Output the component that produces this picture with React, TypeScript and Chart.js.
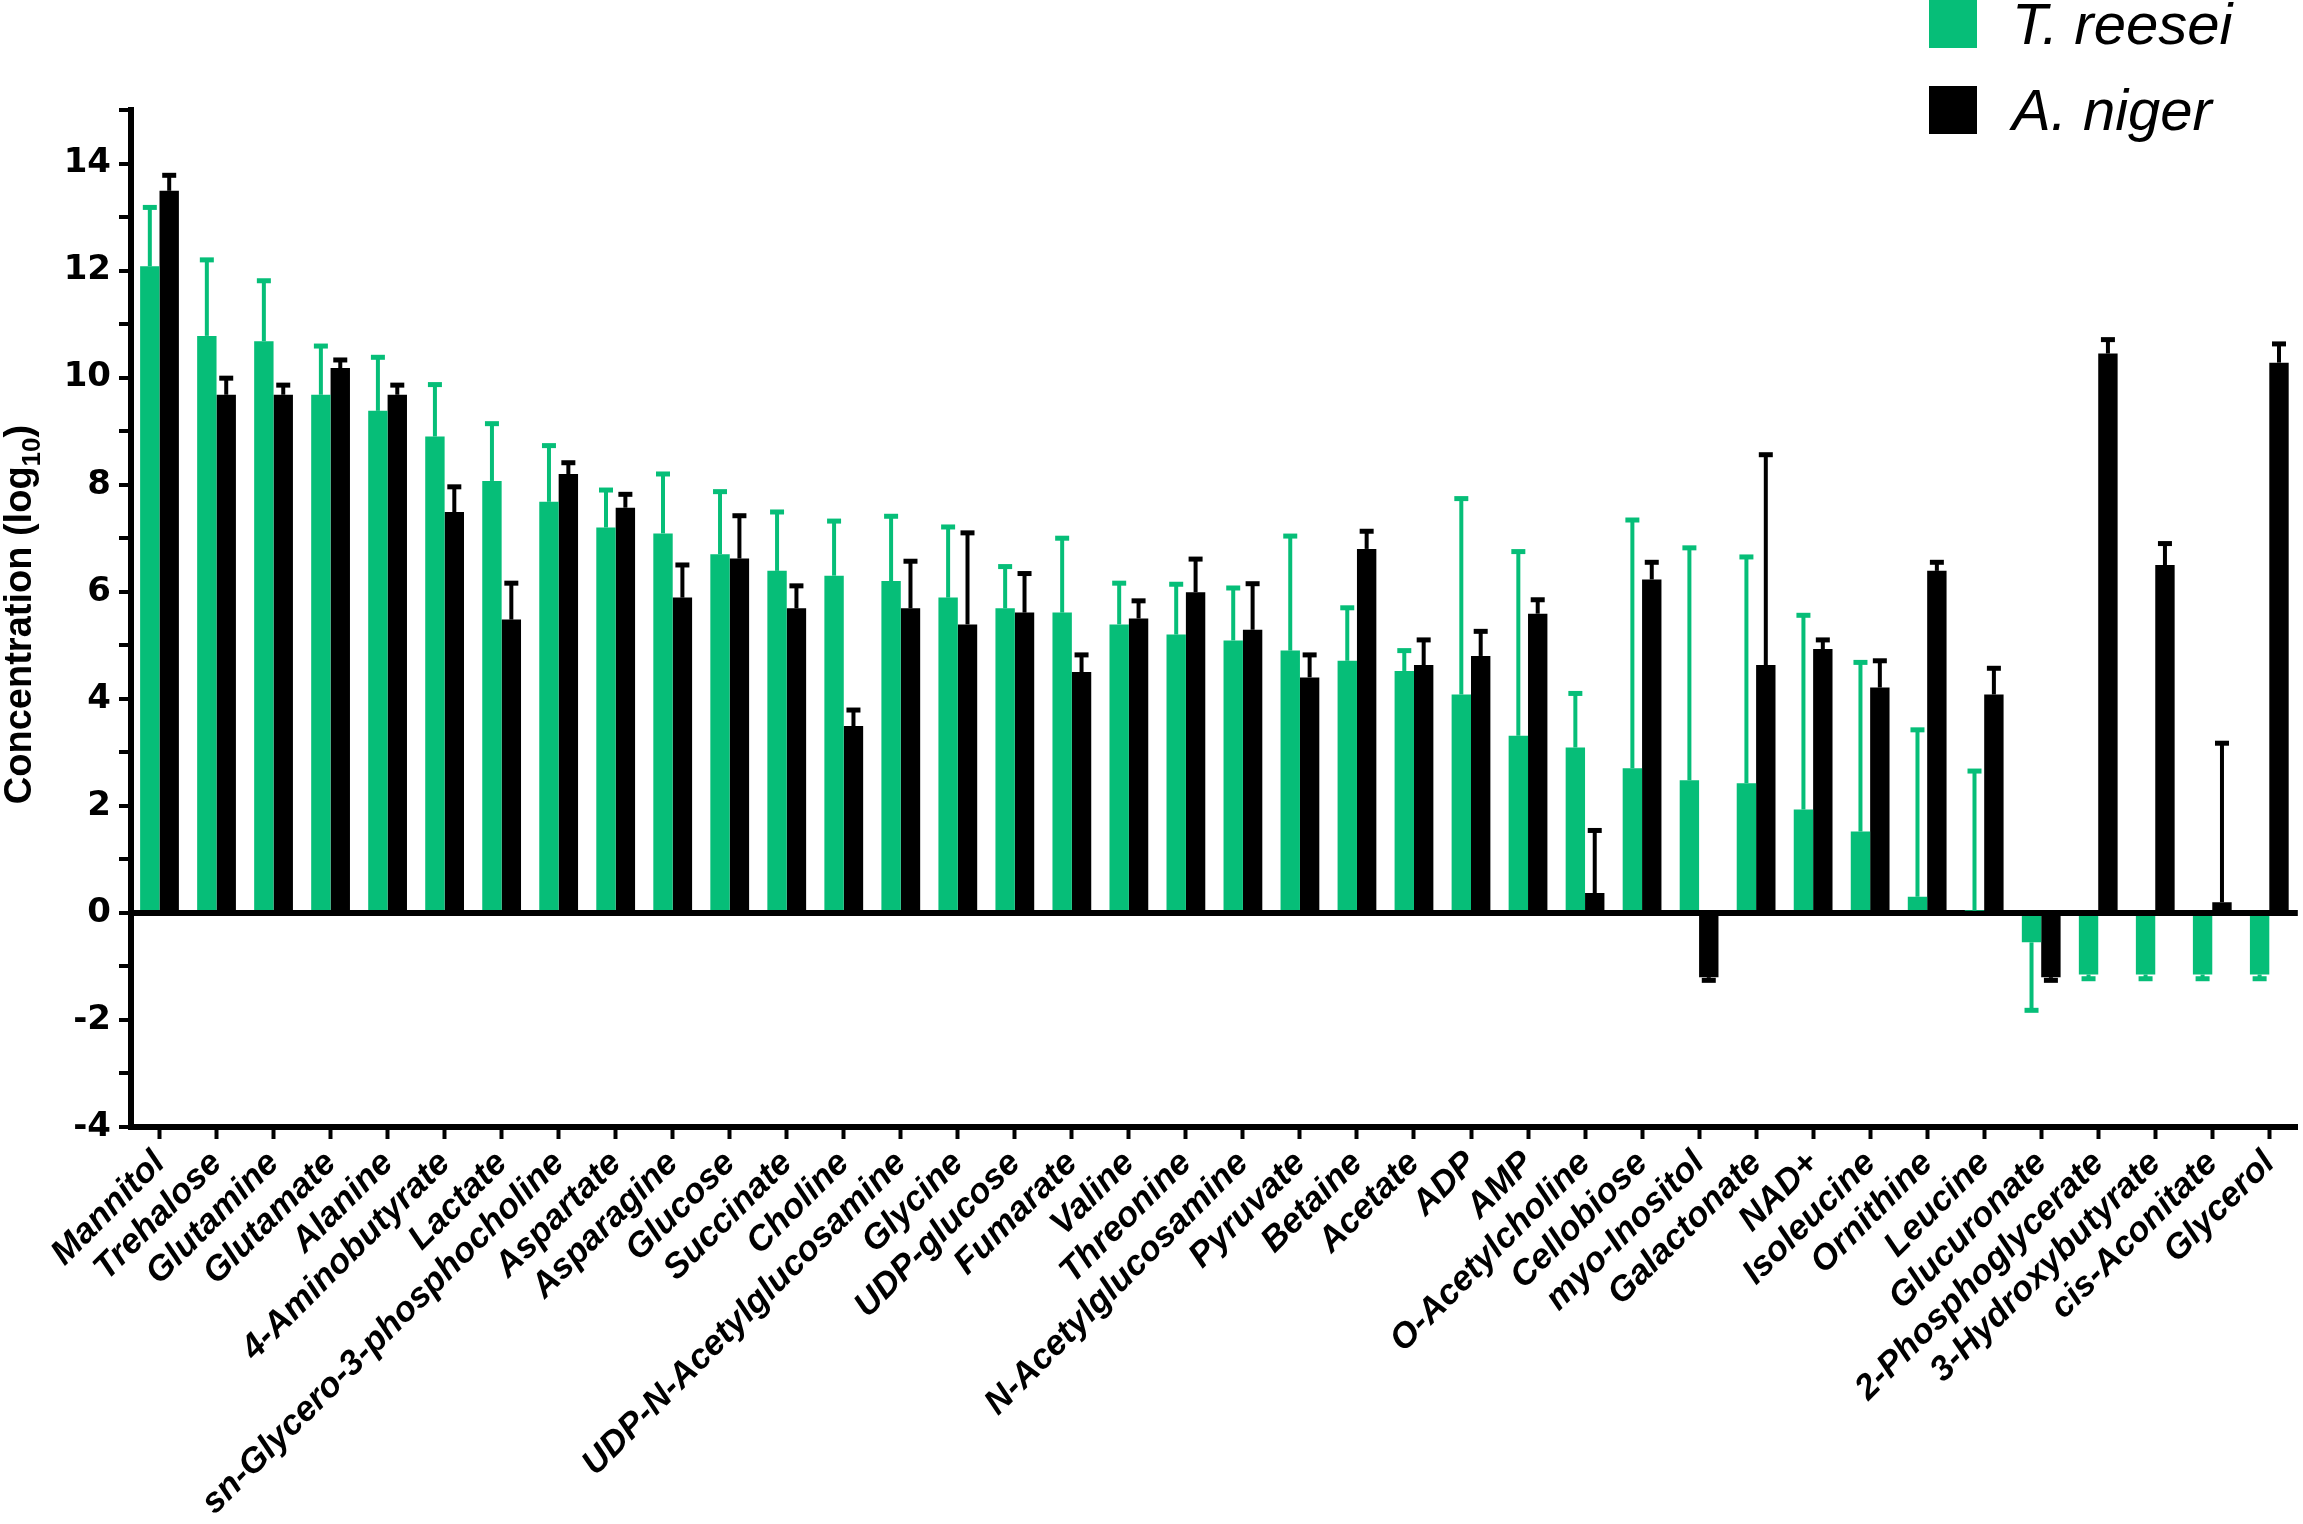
import { useEffect, useRef } from "react";
import { Chart, registerables } from "chart.js";

Chart.register(...registerables);

const metabolites = [
  "Mannitol", "Trehalose", "Glutamine", "Glutamate", "Alanine",
  "4-Aminobutyrate", "Lactate", "sn-Glycero-3-phosphocholine", "Aspartate",
  "Asparagine", "Glucose", "Succinate", "Choline", "UDP-N-Acetylglucosamine",
  "Glycine", "UDP-glucose", "Fumarate", "Valine", "Threonine",
  "N-Acetylglucosamine", "Pyruvate", "Betaine", "Acetate", "ADP", "AMP",
  "O-Acetylcholine", "Cellobiose", "myo-Inositol", "Galactonate", "NAD+",
  "Isoleucine", "Ornithine", "Leucine", "Glucuronate", "2-Phosphoglycerate",
  "3-Hydroxybutyrate", "cis-Aconitate", "Glycerol",
];

const seriesNames = ["T. reesei", "A. niger"];
const seriesColors = ["#06BE78", "#000000"];

// mean log10 concentration and one-sided error (away from zero)
const reeseiMean = [
  12.08, 10.78, 10.68, 9.68, 9.38, 8.9, 8.07, 7.68, 7.2, 7.09,
  6.7, 6.39, 6.3, 6.2, 5.89, 5.69, 5.61, 5.39, 5.2, 5.09,
  4.9, 4.71, 4.52, 4.08, 3.31, 3.09, 2.7, 2.48, 2.42, 1.93,
  1.52, 0.3, 0.04, -0.55, -1.15, -1.15, -1.15, -1.15,
];
const reeseiErr = [
  1.1, 1.42, 1.13, 0.91, 1.0, 0.97, 1.07, 1.05, 0.7, 1.11,
  1.17, 1.1, 1.02, 1.21, 1.32, 0.78, 1.39, 0.77, 0.94, 0.98,
  2.14, 0.99, 0.38, 3.66, 3.44, 1.01, 4.64, 4.34, 4.23, 3.63,
  3.16, 3.12, 2.61, 1.27, 0.08, 0.08, 0.08, 0.08,
];
const nigerMean = [
  13.49, 9.68, 9.68, 10.18, 9.68, 7.49, 5.48, 8.2, 7.57, 5.89,
  6.62, 5.69, 3.49, 5.69, 5.39, 5.61, 4.5, 5.5, 5.99, 5.29,
  4.4, 6.8, 4.63, 4.8, 5.59, 0.37, 6.23, -1.2, 4.63, 4.93,
  4.21, 6.39, 4.08, -1.2, 10.45, 6.5, 0.2, 10.28,
];
const nigerErr = [
  0.29, 0.31, 0.18, 0.15, 0.18, 0.47, 0.68, 0.21, 0.25, 0.61,
  0.8, 0.42, 0.3, 0.88, 1.71, 0.73, 0.32, 0.33, 0.62, 0.86,
  0.42, 0.33, 0.47, 0.46, 0.26, 1.17, 0.32, 0.06, 3.93, 0.17,
  0.5, 0.16, 0.49, 0.06, 0.26, 0.4, 2.97, 0.35,
];

const seriesMeans = [reeseiMean, nigerMean];
const seriesErrors = [reeseiErr, nigerErr];

const yMin = -4;
const yMax = 15;

const errorBars = {
  id: "errorBars",
  afterDatasetsDraw(chart: Chart) {
    const { ctx } = chart;
    const yScale = chart.scales.y;
    chart.data.datasets.forEach((ds, i) => {
      const meta = chart.getDatasetMeta(i);
      const errs = seriesErrors[i];
      meta.data.forEach((bar: any, j: number) => {
        const v = ds.data[j] as number;
        const end = v >= 0 ? v + errs[j] : v - errs[j];
        const yEnd = yScale.getPixelForValue(end);
        ctx.save();
        ctx.strokeStyle = seriesColors[i];
        ctx.lineWidth = 4;
        ctx.beginPath();
        ctx.moveTo(bar.x, bar.y);
        ctx.lineTo(bar.x, yEnd);
        ctx.stroke();
        ctx.lineWidth = 5;
        ctx.beginPath();
        ctx.moveTo(bar.x - 7, yEnd);
        ctx.lineTo(bar.x + 7, yEnd);
        ctx.stroke();
        ctx.restore();
      });
    });
  },
};

// y title with a subscript, drawn rotated left of the axis
const yTitle = {
  id: "yTitle",
  afterDraw(chart: Chart) {
    const { ctx, chartArea } = chart;
    const main = "bold 38px 'Liberation Sans', Arial, sans-serif";
    const sub = "bold 26px 'Liberation Sans', Arial, sans-serif";
    const parts = [
      { t: "Concentration (log", f: main, dy: 0 },
      { t: "10", f: sub, dy: 9 },
      { t: ")", f: main, dy: 0 },
    ];
    ctx.save();
    let total = 0;
    parts.forEach((p) => {
      ctx.font = p.f;
      total += ctx.measureText(p.t).width;
    });
    ctx.translate(31, (chartArea.top + chartArea.bottom) / 2 - 4);
    ctx.rotate(-Math.PI / 2);
    ctx.fillStyle = "#000";
    ctx.textBaseline = "alphabetic";
    let x = -total / 2;
    parts.forEach((p) => {
      ctx.font = p.f;
      ctx.fillText(p.t, x, p.dy);
      x += ctx.measureText(p.t).width;
    });
    ctx.restore();
  },
};

export default function App() {
  const canvasRef = useRef<HTMLCanvasElement | null>(null);
  const chartRef = useRef<Chart | null>(null);

  useEffect(() => {
    document.body.style.margin = "0";
    if (!canvasRef.current) return;
    const ctx = canvasRef.current.getContext("2d");
    if (!ctx) return;

    chartRef.current = new Chart(ctx, {
      type: "bar",
      data: {
        labels: metabolites,
        datasets: seriesNames.map((name, i) => ({
          label: name,
          data: seriesMeans[i],
          backgroundColor: seriesColors[i],
          borderWidth: 0,
          categoryPercentage: 0.68,
          barPercentage: 1.0,
        })),
      },
      options: {
        responsive: true,
        maintainAspectRatio: false,
        animation: false,
        layout: { padding: { top: 110, right: 0, left: 0, bottom: 0 } },
        plugins: {
          legend: { display: false },
          tooltip: { enabled: false },
        },
        scales: {
          x: {
            afterFit(scale: any) {
              scale.height = 397;
            },
            border: { display: true, color: "#000", width: 6 },
            grid: {
              offset: false,
              drawOnChartArea: false,
              drawTicks: true,
              tickLength: 12,
              tickWidth: 4,
              tickColor: "#000",
            },
            ticks: {
              autoSkip: false,
              maxRotation: 45,
              minRotation: 45,
              padding: 4,
              color: "#000",
              font: {
                family: "'Liberation Sans', Arial, sans-serif",
                size: 35,
                weight: "bold",
                style: "italic",
              },
            },
          },
          y: {
            min: yMin,
            max: yMax,
            afterFit(scale: any) {
              scale.width = 131;
            },
            border: { display: true, color: "#000", width: 6 },
            grid: {
              drawOnChartArea: true,
              drawTicks: true,
              tickLength: 12,
              color: (c: any) =>
                c.tick && c.tick.value === 0 ? "#000" : "rgba(0,0,0,0)",
              lineWidth: (c: any) => (c.tick && c.tick.value === 0 ? 6 : 0),
              tickColor: "#000",
              tickWidth: 4,
            },
            ticks: {
              stepSize: 1,
              autoSkip: false,
              padding: 8,
              color: "#000",
              callback: (v: any) => (Number(v) % 2 === 0 ? String(v) : ""),
              font: {
                family: "'DejaVu Sans', sans-serif",
                size: 34,
                weight: "bold",
              },
            },
          },
        },
      },
      plugins: [errorBars, yTitle],
    });

    return () => {
      chartRef.current?.destroy();
    };
  }, []);

  return (
    <div style={{ position: "relative", width: 2303, height: 1524 }}>
      <canvas ref={canvasRef} />
      <div style={{ position: "absolute", left: 1929, top: 0 }}>
        {seriesNames.map((name, i) => (
          <div
            key={name}
            style={{
              display: "flex",
              alignItems: "center",
              height: 48,
              marginBottom: 38,
            }}
          >
            <div
              style={{
                width: 48,
                height: 48,
                background: seriesColors[i],
                marginRight: 35,
              }}
            />
            <span
              style={{
                fontFamily: "'Liberation Sans', Arial, sans-serif",
                fontStyle: "italic",
                fontSize: 58,
                lineHeight: "48px",
                color: "#000",
              }}
            >
              {name}
            </span>
          </div>
        ))}
      </div>
    </div>
  );
}
